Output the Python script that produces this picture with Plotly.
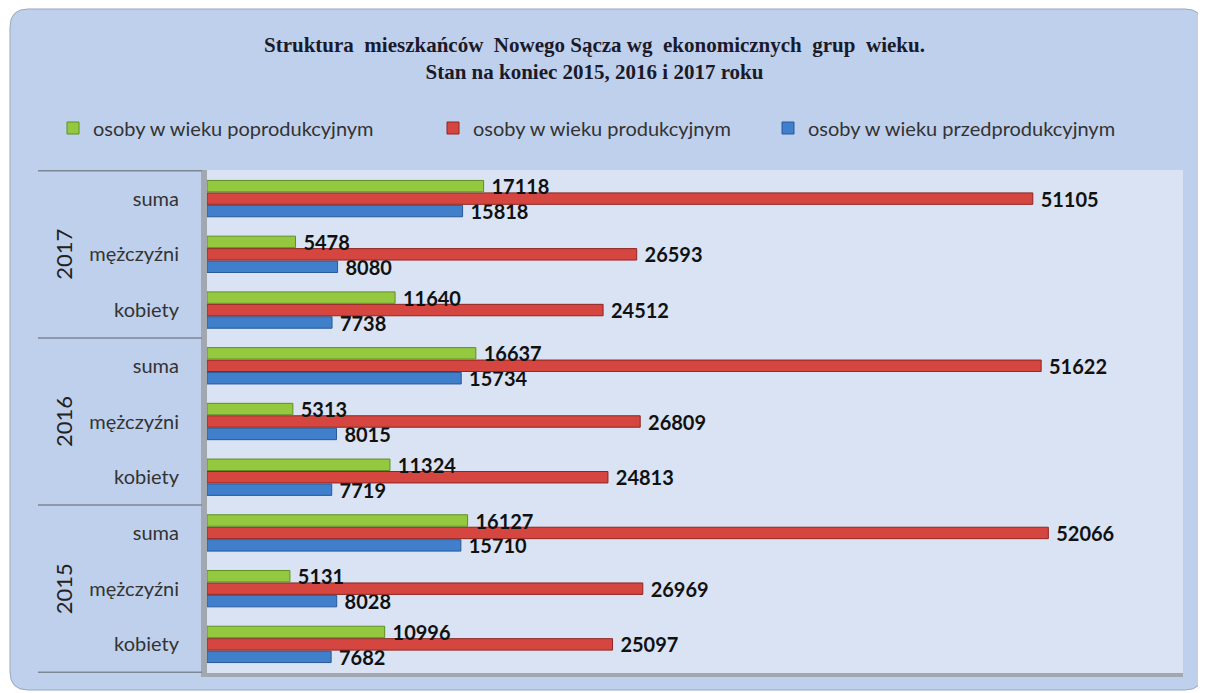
import plotly.graph_objects as go

# ---- data ----
years = ["2015", "2016", "2017"]
groups = ["kobiety", "mężczyźni", "suma"]
przedprodukcyjny = [7682, 8028, 15710, 7719, 8015, 15734, 7738, 8080, 15818]
produkcyjny = [25097, 26969, 52066, 24813, 26809, 51622, 24512, 26593, 51105]
poprodukcyjny = [10996, 5131, 16127, 11324, 5313, 16637, 11640, 5478, 17118]
series_names = ["osoby w wieku przedprodukcyjnym", "osoby w wieku produkcyjnym",
                "osoby w wieku poprodukcyjnym"]
title_lines = ["Struktura  mieszkańców  Nowego Sącza wg  ekonomicznych  grup  wieku.",
               "Stan na koniec 2015, 2016 i 2017 roku"]

keys = [f"{y}|{g}" for y in years for g in groups]
ticktext = [g for y in years for g in groups]

# page has an 8px body margin: figure occupies page x 8..1206, y 8..693
OFF = 8
W, H = 1206 - OFF, 693 - OFF
PL, PR, PT, PB = 207, 1183, 170, 673          # plot area in page pixels
L, R, T, B = PL - OFF, 1206 - PR, PT - OFF, 693 - PB
pw, ph = PR - PL, PB - PT


def px2x(px):
    return (px - PL) / pw


def px2y(py):
    return (PB - py) / ph


colors = ["#3f7fcc", "#d4463f", "#93c83f"]
lines = ["#2a5a98", "#8e2622", "#5f8f25"]
values = [przedprodukcyjny, produkcyjny, poprodukcyjny]
legend_ids = ["legend3", "legend2", "legend"]

fig = go.Figure()
for name, vals, c, lc, lg in zip(series_names, values, colors, lines, legend_ids):
    fig.add_trace(go.Bar(
        y=keys, x=vals, orientation="h", name=name, legend=lg,
        marker=dict(color=c, line=dict(color=lc, width=1)),
        text=["\u00a0" + str(v) for v in vals], textposition="outside",
        textfont=dict(family="Lato", size=20, color="#111111", weight="bold"),
        cliponaxis=False, constraintext="none",
    ))


def rounded_rect(x0, y0, x1, y1, r):
    def P(x, y):
        return f"{px2x(x):.5f},{px2y(y):.5f}"
    return (f"M {P(x0 + r, y0)} L {P(x1 - r, y0)} Q {P(x1, y0)} {P(x1, y0 + r)} "
            f"L {P(x1, y1 - r)} Q {P(x1, y1)} {P(x1 - r, y1)} "
            f"L {P(x0 + r, y1)} Q {P(x0, y1)} {P(x0, y1 - r)} "
            f"L {P(x0, y0 + r)} Q {P(x0, y0)} {P(x0 + r, y0)} Z")


shapes = [
    dict(type="path", xref="paper", yref="paper", path=rounded_rect(10, 9, 1203, 690, 18),
         fillcolor="#bfd0ec", line=dict(color="#9aa8bd", width=1), layer="below"),
    dict(type="rect", xref="paper", yref="paper", x0=0, x1=1, y0=0, y1=1,
         fillcolor="#d9e3f3", line=dict(width=0), layer="below"),
    dict(type="rect", xref="paper", yref="paper", x0=px2x(201), x1=0, y0=px2y(677), y1=1,
         fillcolor="#a3a8b0", line=dict(width=0), layer="below"),
    dict(type="rect", xref="paper", yref="paper", x0=px2x(201), x1=1, y0=px2y(677), y1=0,
         fillcolor="#a3a8b0", line=dict(width=0), layer="below"),
]
for yv in [-0.5, 2.5, 5.5, 8.5]:
    shapes.append(dict(type="line", xref="paper", yref="y", x0=px2x(38), x1=px2x(202),
                       y0=yv, y1=yv, line=dict(color="#7d8794", width=1.5)))

annotations = []
for y in years:
    annotations.append(dict(xref="paper", yref="y", x=px2x(48), y=f"{y}|mężczyźni",
                            text=y, textangle=-90, showarrow=False,
                            font=dict(family="Lato", size=22, color="#222222")))
annotations.append(dict(xref="paper", yref="paper", x=px2x(594), y=px2y(59),
                        text="<b>" + title_lines[0] + "</b><br><b>" + title_lines[1] + "</b>",
                        showarrow=False, xanchor="center", yanchor="middle",
                        font=dict(family="Liberation Serif", size=21, color="#1a1a2a")))

leg_common = dict(orientation="h", xanchor="left", yanchor="middle",
                  bgcolor="rgba(0,0,0,0)", itemwidth=30,
                  font=dict(family="Lato", size=20, color="#333333"))

fig.update_layout(
    width=W, height=H,
    margin=dict(l=L, r=R, t=T, b=B),
    paper_bgcolor="white", plot_bgcolor="rgba(0,0,0,0)",
    barmode="group", bargap=0.33, bargroupgap=0.08,
    showlegend=True,
    legend=dict(x=px2x(53), y=px2y(128), **leg_common),
    legend2=dict(x=px2x(433), y=px2y(128), **leg_common),
    legend3=dict(x=px2x(768), y=px2y(128), **leg_common),
    xaxis=dict(range=[0, 60400], showgrid=False, showticklabels=False, zeroline=False,
               showline=False, fixedrange=True),
    yaxis=dict(type="category", categoryorder="array", categoryarray=keys,
               tickvals=keys, ticktext=ticktext, showgrid=False, showline=False,
               ticks="outside", ticklen=0, tickcolor="rgba(0,0,0,0)", ticklabelstandoff=23,
               tickfont=dict(family="Lato", size=20, color="#333333"), fixedrange=True),
    shapes=shapes, annotations=annotations,
)

fig.write_html("out.html")
